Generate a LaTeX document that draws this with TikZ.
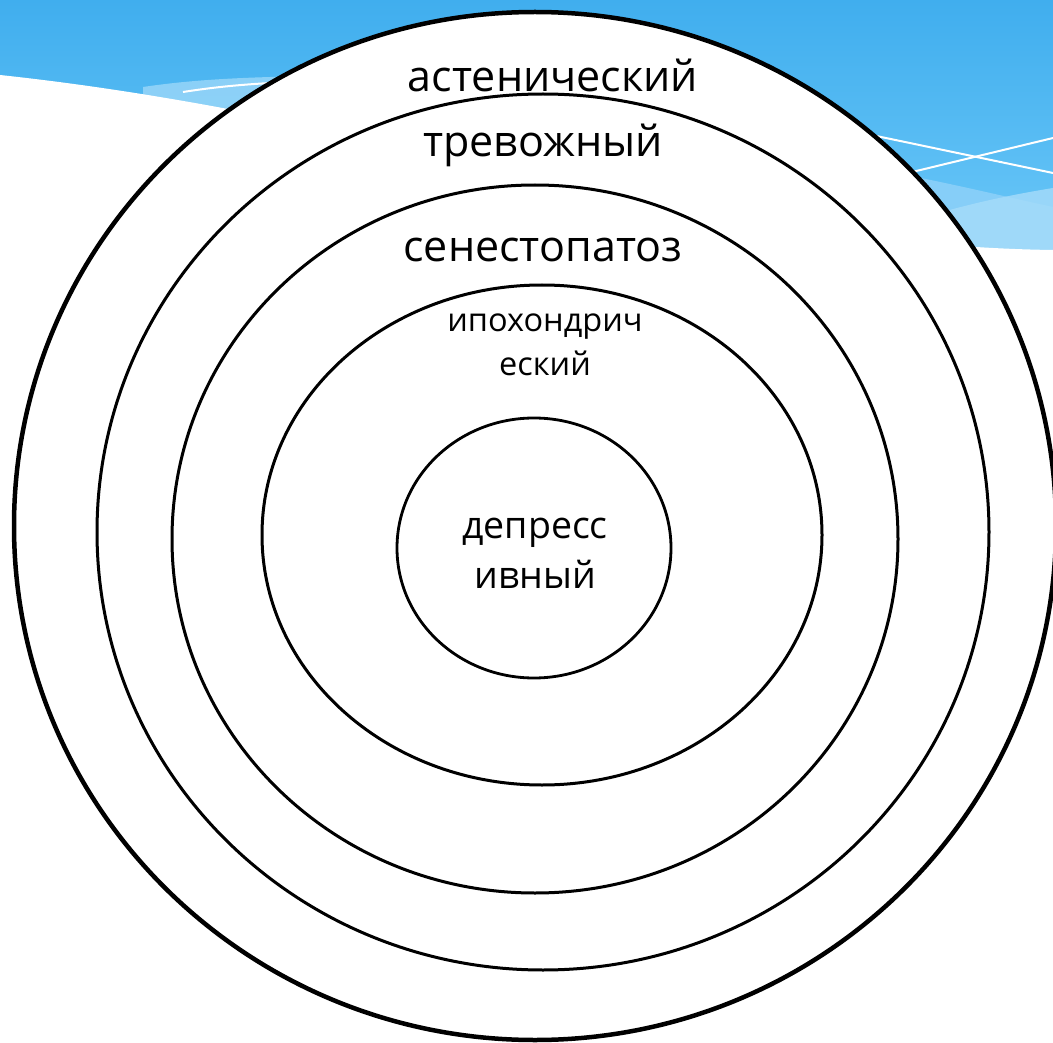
\documentclass[tikz,border=0pt]{standalone}
\usepackage{fontspec}
\setmainfont{Open Sans}
\definecolor{skytop}{HTML}{40AEEE}
\definecolor{skybot}{HTML}{6CC8F8}
\definecolor{bandA}{HTML}{86CEF8}
\definecolor{bandB}{HTML}{A6DCFA}
\begin{document}
\begin{tikzpicture}[x=1pt,y=-1pt,
  ring/.style={draw=black,line width=3pt},
  bigtext/.style={anchor=base,inner sep=0pt,font=\fontsize{43}{52}\selectfont},
  midtext/.style={anchor=base,inner sep=0pt,font=\fontsize{32.5}{42}\selectfont},
  deptext/.style={anchor=base,inner sep=0pt,font=\fontsize{37.5}{48}\selectfont},
  wave/.style={draw=white,line width=2pt}]
\useasboundingbox (0,0) rectangle (1053,1043);
\clip (0,0) rectangle (1053,1043);
% sky background
\shade[top color=skytop,bottom color=skybot] (0,0) rectangle (1053,260);
\fill[bandA] (880,170) .. controls (960,185) and (1010,198) .. (1053,207) -- (1053,255) -- (900,255) -- cycle;
\fill[bandB,opacity=0.8] (900,225) .. controls (960,205) and (1010,195) .. (1053,188) -- (1053,255) -- (900,255) -- cycle;
\fill[bandB,opacity=0.7] (143,87) .. controls (190,80) and (240,77) .. (320,76) -- (320,120) -- (143,120) -- cycle;
% white wave
\fill[white] (0,75) .. controls (400,118) and (700,245) .. (1053,250) -- (1053,1043) -- (0,1043) -- cycle;
\draw[wave] (183,92) .. controls (215,87) and (245,84) .. (290,82);
\draw[wave] (800,120) -- (1053,173);
\draw[wave] (850,187) -- (1053,138);
% rings
\fill[white] (535,526) ellipse [x radius=521,y radius=514];
\draw[black,line width=4.5pt] (535,526) ellipse [x radius=521,y radius=514];
\draw[ring] (543,532) ellipse [x radius=446,y radius=438];
\draw[ring] (535,539) ellipse [x radius=363,y radius=354];
\draw[ring] (542,535) ellipse [x radius=280,y radius=250];
\draw[ring,line width=2.8pt] (534,548) ellipse [x radius=137,y radius=130];
% labels
\node[bigtext] (ast) at (553,92) {астенический};
\node[bigtext] (trev) at (543,157) {тревожный};
\node[bigtext] (sen) at (543,262) {сенестопатоз};
\node[midtext] (hyp1) at (545,331) {ипохондрич};
\node[midtext] (hyp2) at (545,375) {еский};
\node[deptext] (dep1) at (535,538) {депресс};
\node[deptext] (dep2) at (535,588) {ивный};
\end{tikzpicture}
\end{document}
